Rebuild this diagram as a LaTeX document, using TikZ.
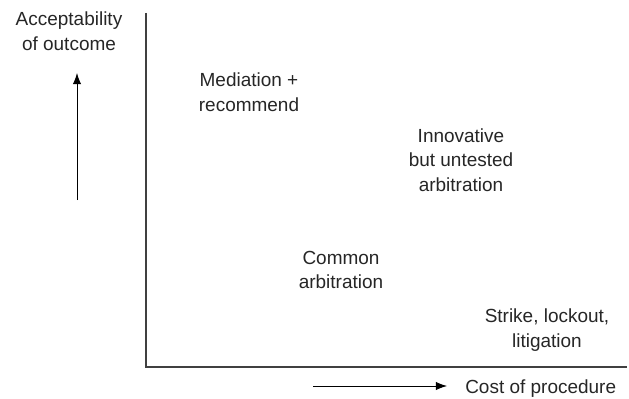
\documentclass[tikz,border=0pt]{standalone}
\usepackage{fontspec}
\setmainfont{Liberation Sans}
\usetikzlibrary{arrows.meta}
\begin{document}
\begin{tikzpicture}[lbl/.style = {align=center, font=\fontsize{13.5}{17.5}\selectfont, text=black!85, inner sep=0pt}, axis/.style = {draw=black!75, line width=1.1pt}, dir/.style = {-{Latex[length=2.8mm, width=2.1mm]}, line width=0.6pt}]
    \useasboundingbox (0, 0) rectangle (15.725, 9.95);
    % axes
    \coordinate (top) at (3.65, 9.625);
    \coordinate (orig) at (3.65, 0.775);
    \coordinate (right) at (15.675, 0.775);
    \draw[axis] (top) -- (orig) -- (right);

    % axis labels
    \node[lbl] (accept) at (1.725, 9.17) {Acceptability\\of outcome};
    \coordinate (up0) at (1.925, 4.95);
    \coordinate (up1) at (1.925, 8.125);
    \draw[dir] (up0) -- (up1);

    \coordinate (rt0) at (7.825, 0.3);
    \coordinate (rt1) at (11.175, 0.3);
    \draw[dir] (rt0) -- (rt1);
    \node[lbl, anchor=west] (cost) at (11.625, 0.24) {Cost of procedure};

    % procedures
    \node[lbl] (med) at (6.225, 7.65) {Mediation +\\recommend};
    \node[lbl] (innov) at (11.525, 5.95) {Innovative\\but untested\\arbitration};
    \node[lbl] (common) at (8.525, 3.2) {Common\\arbitration};
    \node[lbl] (strike) at (13.675, 1.7) {Strike, lockout,\\litigation};
\end{tikzpicture}
\end{document}
